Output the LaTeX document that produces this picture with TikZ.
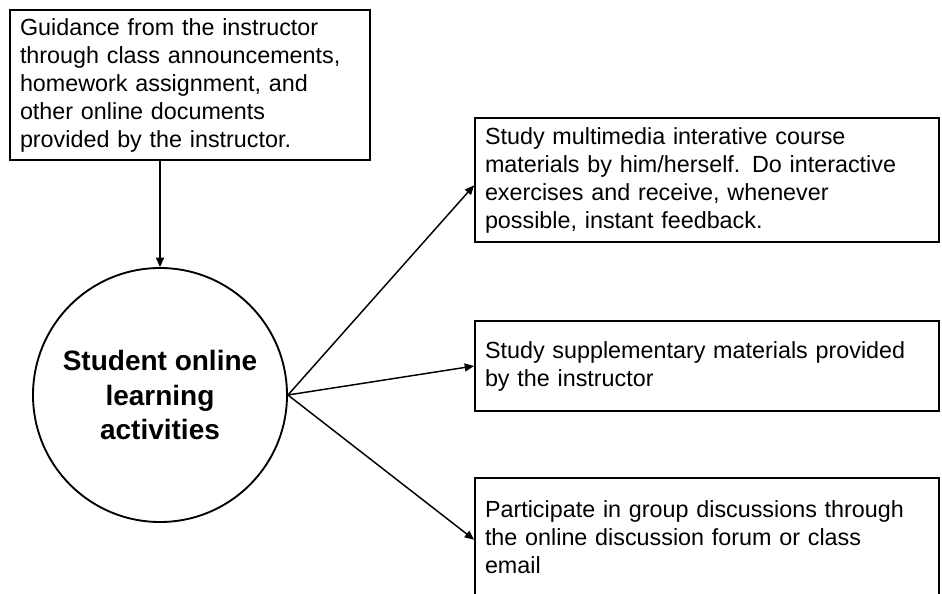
\documentclass[tikz,border=0pt]{standalone}
\usepackage{fontspec}
\setmainfont{Liberation Sans}
\usetikzlibrary{arrows.meta}

\begin{document}
\begin{tikzpicture}[x=0.75pt, y=-0.75pt, >={Triangle[length=7pt,width=6pt]},
  txtbox/.style={rectangle, draw=black, line width=1.4pt, align=left, inner xsep=7.5pt,
                 font=\fontsize{17.5}{21}\selectfont},
  hub/.style={circle, draw=black, line width=1.4pt, align=center, minimum size=190.5pt,
              inner sep=0pt, font=\fontsize{21}{26}\selectfont\bfseries}]
  \useasboundingbox (0,0) rectangle (942,593);
  \clip (0,0) rectangle (942,593);
  \node[txtbox, minimum width=270pt, minimum height=112.5pt, text width=255pt] (guide) at (190,85)
    {Guidance from the instructor\\ through class announcements,\\ homework assignment, and\\ other online documents\\ provided by the instructor.};
  \node[hub] (act) at (160,395) {Student online\\ learning\\ activities};
  \node[txtbox, minimum width=348pt, minimum height=93pt, text width=333pt] (self) at (707,180)
    {Study multimedia interative course\\ materials by him/herself. Do interactive\\ exercises and receive, whenever\\ possible, instant feedback.};
  \node[txtbox, minimum width=348pt, minimum height=67.5pt, text width=333pt] (supp) at (707,366)
    {Study supplementary materials provided\\ by the instructor};
  \node[txtbox, minimum width=348pt, minimum height=88.5pt, text width=333pt] (group) at (707,537)
    {Participate in group discussions through\\ the online discussion forum or class\\ email};
  \draw[->, line width=1.1pt] (act.north |- guide.south) -- (act.north);
  \draw[->, line width=1.1pt] (act.east) -- ([yshift=-4pt]self.west);
  \draw[->, line width=1.1pt] (act.east) -- (supp.west);
  \draw[->, line width=1.1pt] (act.east) -- ([yshift=-2pt]group.west);
\end{tikzpicture}
\end{document}
